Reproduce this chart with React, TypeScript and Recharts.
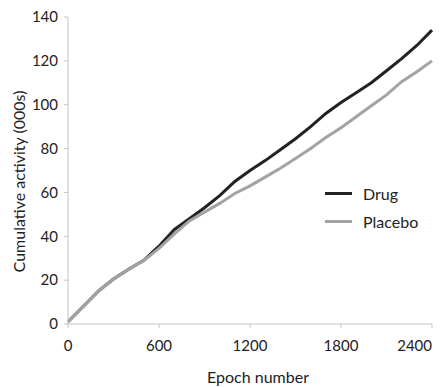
import { Label, Legend, Line, LineChart, XAxis, YAxis } from "recharts";

const epochs = [
  0, 100, 200, 300, 400, 500, 600, 700, 800, 900, 1000, 1100, 1200, 1300,
  1400, 1500, 1600, 1700, 1800, 1900, 2000, 2100, 2200, 2300, 2400,
];
const drug = [
  1, 8, 15, 20.5, 25, 29, 35.5, 43, 48, 53, 58.5, 65, 70, 74.5, 79.5, 84.5,
  90, 96, 101, 105.5, 110, 115.5, 121, 127, 134,
];
const placebo = [
  1, 8, 15, 20.5, 25, 29, 34.5, 41, 47, 51, 55, 59.5, 63, 67, 71, 75.5, 80,
  85, 89.5, 94.5, 99.5, 104.5, 110.5, 115, 120,
];
const xTicks = [0, 600, 1200, 1800, 2400];
const yTicks = [0, 20, 40, 60, 80, 100, 120, 140];

const data = epochs.map((epoch, i) => ({
  epoch,
  drug: drug[i],
  placebo: placebo[i],
}));

const font = "Lato, 'DejaVu Sans', sans-serif";
const axisColor = "#c4c4c4";
const textColor = "#222";

function LegendList({ payload }: any) {
  return (
    <div style={{ fontFamily: font, fontSize: 16, color: textColor }}>
      {(payload || []).map((entry: any) => (
        <div
          key={entry.value}
          style={{ display: "flex", alignItems: "center", height: 28 }}
        >
          <span
            style={{
              display: "inline-block",
              width: 27,
              height: 3,
              background: entry.color,
              marginRight: 11,
            }}
          />
          <span>{entry.value}</span>
        </div>
      ))}
    </div>
  );
}

// last label is pulled inside the plot like the original
function XTick({ x, y, payload }: any) {
  const last = payload.value === xTicks[xTicks.length - 1];
  return (
    <text
      x={last ? x + 5 : x}
      y={y}
      dy="0.71em"
      textAnchor={last ? "end" : "middle"}
      fontFamily={font}
      fontSize={15}
      fill={textColor}
    >
      {payload.value}
    </text>
  );
}

function YTitle({ viewBox }: any) {
  const cx = viewBox.x + 10;
  const cy = viewBox.y + viewBox.height / 2 + 11;
  return (
    <text
      x={cx}
      y={cy}
      transform={`rotate(-90, ${cx}, ${cy})`}
      textAnchor="middle"
      dominantBaseline="central"
      fontFamily={font}
      fontSize={16}
      fill={textColor}
    >
      Cumulative activity (000s)
    </text>
  );
}

function XTitle({ viewBox }: any) {
  const cx = viewBox.x + viewBox.width / 2 + 8;
  const y = viewBox.y + 59;
  return (
    <text
      x={cx}
      y={y}
      textAnchor="middle"
      fontFamily={font}
      fontSize={16}
      fill={textColor}
    >
      Epoch number
    </text>
  );
}

export default function App() {
  return (
    <div style={{ fontFamily: font }}>
      <LineChart
        width={435}
        height={379}
        data={data}
        margin={{ top: 9, right: 11, left: 0, bottom: 1 }}
      >
        <XAxis
          dataKey="epoch"
          type="number"
          domain={[0, 2400]}
          ticks={xTicks}
          height={62}
          stroke={axisColor}
          tickSize={4}
          tickMargin={12}
          tick={<XTick />}
        >
          <Label content={<XTitle />} />
        </XAxis>
        <YAxis
          type="number"
          domain={[0, 140]}
          ticks={yTicks}
          width={60}
          stroke={axisColor}
          tickSize={4}
          tickMargin={6}
          tick={{ fill: textColor, fontSize: 15, fontFamily: font }}
        >
          <Label content={<YTitle />} />
        </YAxis>
        <Legend
          layout="vertical"
          align="center"
          verticalAlign="middle"
          content={<LegendList />}
          wrapperStyle={{ left: 317, top: 171, width: "auto" }}
        />
        <Line
          dataKey="drug"
          name="Drug"
          stroke="#222"
          strokeWidth={3}
          dot={false}
          isAnimationActive={false}
        />
        <Line
          dataKey="placebo"
          name="Placebo"
          stroke="#a3a3a3"
          strokeWidth={3}
          dot={false}
          isAnimationActive={false}
        />
      </LineChart>
    </div>
  );
}
